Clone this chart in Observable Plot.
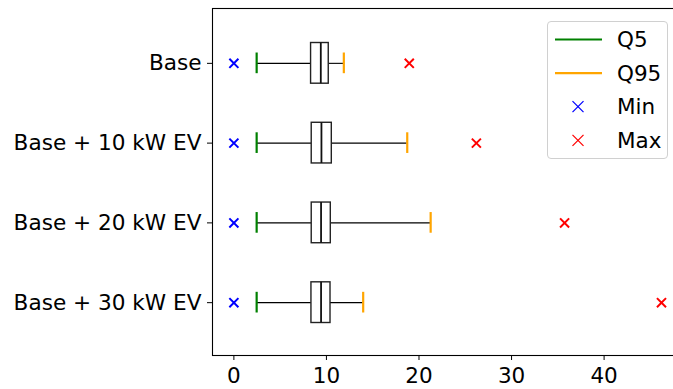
<!DOCTYPE html>
<html>
<head>
<meta charset="utf-8">
<script src="https://cdn.jsdelivr.net/npm/d3@7"></script>
<script src="https://cdn.jsdelivr.net/npm/@observablehq/plot@0.6"></script>
<style>
  body { margin: 0; background: #fff; font-family: "DejaVu Sans", sans-serif; }
  #wrap { position: relative; width: 673px; height: 389px; overflow: hidden; }
  #legend { position: absolute; left: 547px; top: 21px; width: 121px; height: 138px;
    border: 1px solid #d0d0d0; border-radius: 4px; background: rgba(255,255,255,0.8); box-sizing: border-box; }
</style>
</head>
<body>
<div id="wrap"></div>
<script>
const categories = ["Base", "Base + 10 kW EV", "Base + 20 kW EV", "Base + 30 kW EV"];
const q5 = [2.46, 2.46, 2.46, 2.46];
const q1 = [8.34, 8.41, 8.41, 8.38];
const median = [9.39, 9.46, 9.42, 9.42];
const q3 = [10.25, 10.58, 10.47, 10.44];
const q95 = [11.88, 18.73, 21.26, 13.97];
const minV = [0, 0, 0, 0];
const maxV = [18.95, 26.2, 35.73, 46.2];
const xTicks = [0, 10, 20, 30, 40];
const legendItems = [
  {label: "Q5", kind: "line", color: "green"},
  {label: "Q95", kind: "line", color: "orange"},
  {label: "Min", kind: "x", color: "blue"},
  {label: "Max", kind: "x", color: "red"}
];

const data = categories.map((c, i) => ({
  cat: c, q5: q5[i], q1: q1[i], med: median[i], q3: q3[i], q95: q95[i], min: minV[i], max: maxV[i]
}));

const chart = Plot.plot({
  width: 673,
  height: 389,
  marginLeft: 212,
  marginTop: 8,
  marginBottom: 34,
  marginRight: -9,
  style: {fontFamily: "DejaVu Sans, sans-serif", fontSize: "21.5px", color: "black", background: "white"},
  x: {domain: [-2.31, 48.47], ticks: xTicks},
  y: {domain: categories, paddingInner: 0.49, paddingOuter: 0.42, align: 0.515, round: false},
  marks: [
    Plot.ruleY(data, {y: "cat", x1: "q5", x2: "q1", stroke: "black", strokeWidth: 1.1}),
    Plot.ruleY(data, {y: "cat", x1: "q3", x2: "q95", stroke: "black", strokeWidth: 1.1}),
    Plot.barX(data, {y: "cat", x1: "q1", x2: "q3", fill: "white", stroke: "#222", strokeWidth: 1.4}),
    Plot.tickX(data, {y: "cat", x: "med", stroke: "#111", strokeWidth: 1.8}),
    Plot.tickX(data, {y: "cat", x: "q5", stroke: "green", strokeWidth: 2.2, insetTop: 10, insetBottom: 10}),
    Plot.tickX(data, {y: "cat", x: "q95", stroke: "orange", strokeWidth: 2.2, insetTop: 10, insetBottom: 10}),
    Plot.dot(data, {y: "cat", x: "min", symbol: "times", stroke: "blue", strokeWidth: 2, r: 4.2}),
    Plot.dot(data, {y: "cat", x: "max", symbol: "times", stroke: "red", strokeWidth: 2, r: 4.2}),
    Plot.axisY({tickSize: 5, tickPadding: 6, fontSize: 21.6, label: null, stroke: "black"}),
    Plot.axisX({ticks: xTicks, tickSize: 5, tickPadding: 7, fontSize: 21.5, label: null, stroke: "black"}),
    Plot.frame({stroke: "black", strokeWidth: 1.1})
  ]
});

const wrap = document.getElementById("wrap");
wrap.appendChild(chart);

// legend
const leg = document.createElement("div");
leg.id = "legend";
const ns = "http://www.w3.org/2000/svg";
const svg = document.createElementNS(ns, "svg");
svg.setAttribute("width", 121);
svg.setAttribute("height", 138);
legendItems.forEach((it, i) => {
  const cy = 17.5 + i * 33.6;
  if (it.kind === "line") {
    const l = document.createElementNS(ns, "line");
    l.setAttribute("x1", 7); l.setAttribute("x2", 54);
    l.setAttribute("y1", cy); l.setAttribute("y2", cy);
    l.setAttribute("stroke", it.color); l.setAttribute("stroke-width", 2.2);
    svg.appendChild(l);
  } else {
    const s = 5.5;
    [[-s, -s, s, s], [-s, s, s, -s]].forEach(p => {
      const l = document.createElementNS(ns, "line");
      l.setAttribute("x1", 30 + p[0]); l.setAttribute("y1", cy + p[1]);
      l.setAttribute("x2", 30 + p[2]); l.setAttribute("y2", cy + p[3]);
      l.setAttribute("stroke", it.color); l.setAttribute("stroke-width", 1.2);
      svg.appendChild(l);
    });
  }
  const t = document.createElementNS(ns, "text");
  t.setAttribute("x", 69); t.setAttribute("y", cy);
  t.setAttribute("dy", "0.36em");
  t.setAttribute("font-size", 21.5);
  t.setAttribute("font-family", "DejaVu Sans, sans-serif");
  t.textContent = it.label;
  svg.appendChild(t);
});
leg.appendChild(svg);
wrap.appendChild(leg);
</script>
</body>
</html>
